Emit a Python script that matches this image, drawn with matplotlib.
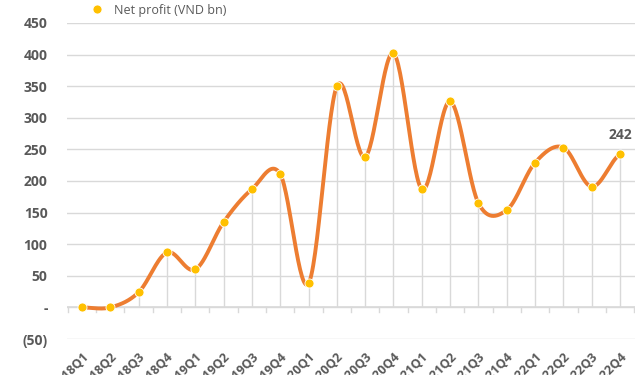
import numpy as np
import matplotlib.pyplot as plt
from matplotlib.ticker import FuncFormatter

# quarterly values
quarters = ["2018Q1", "2018Q2", "2018Q3", "2018Q4",
            "2019Q1", "2019Q2", "2019Q3", "2019Q4",
            "2020Q1", "2020Q2", "2020Q3", "2020Q4",
            "2021Q1", "2021Q2", "2021Q3", "2021Q4",
            "2022Q1", "2022Q2", "2022Q3", "2022Q4"]
values = [0, 0, 24, 87, 60, 135, 187, 211, 38, 350,
          238, 402, 187, 326, 165, 154, 229, 253, 191, 242]

ORANGE = "#ED7D31"
YELLOW = "#FFC000"
GRAY_TXT = "#595959"
GRID = "#D9D9D9"

plt.rcParams['font.family'] = ['Open Sans', 'DejaVu Sans']


def smooth(xs, ys, n=30):
    # Catmull-Rom style smoothing, like Excel's "smoothed line"
    xs = np.asarray(xs, float)
    ys = np.asarray(ys, float)
    px = np.concatenate([[2 * xs[0] - xs[1]], xs, [2 * xs[-1] - xs[-2]]])
    py = np.concatenate([[ys[0]], ys, [ys[-1]]])
    out_x, out_y = [], []
    t = np.linspace(0, 1, n, endpoint=False)
    for i in range(1, len(px) - 2):
        p0, p1, p2, p3 = py[i - 1], py[i], py[i + 1], py[i + 2]
        x1, x2 = px[i], px[i + 1]
        m1 = (p2 - p0) / 2
        m2 = (p3 - p1) / 2
        h00 = 2 * t**3 - 3 * t**2 + 1
        h10 = t**3 - 2 * t**2 + t
        h01 = -2 * t**3 + 3 * t**2
        h11 = t**3 - t**2
        out_y.append(h00 * p1 + h10 * m1 + h01 * p2 + h11 * m2)
        out_x.append(x1 + t * (x2 - x1))
    out_x.append([xs[-1]])
    out_y.append([ys[-1]])
    return np.concatenate(out_x), np.concatenate(out_y)


x = np.arange(len(quarters))
fig = plt.figure(figsize=(6.4, 3.75), dpi=100)
ax = fig.add_axes([67 / 640, 36 / 375, 568 / 640, 316 / 375])

ax.set_ylim(-50, 450)
ax.set_xlim(-0.53, len(quarters) - 0.47)
ax.set_yticks(np.arange(-50, 451, 50))
ax.yaxis.grid(True, color=GRID, lw=1)
ax.set_axisbelow(True)

for s in ["top", "right", "left", "bottom"]:
    ax.spines[s].set_visible(False)

# zero axis line with category boundary ticks
ax.axhline(0, color=GRID, lw=1.2, zorder=1)
for b in np.arange(-0.5, len(quarters), 1.0):
    ax.plot([b, b], [0, -8], color=GRID, lw=1, zorder=1)

# drop lines
ax.vlines(x, 0, values, color=GRID, lw=1, zorder=1)

sx, sy = smooth(x, values)
ax.plot(sx, sy, color=ORANGE, lw=2.8, solid_capstyle="round", zorder=3)
ax.plot(x, values, "o", color=YELLOW, ms=6.5, mec="white", mew=0.6,
        zorder=4, label="Net profit (VND bn)")

ax.annotate(str(values[-1]), (x[-1], values[-1]), xytext=(0, 9),
            textcoords="offset points", ha="center", va="bottom",
            fontsize=10, fontweight="bold", color=GRAY_TXT)


def fmt(v, pos):
    if v == 0:
        return "-"
    if v < 0:
        return "({:d})".format(int(-v))
    return "{:d}".format(int(v))


ax.yaxis.set_major_formatter(FuncFormatter(fmt))
ax.tick_params(axis="y", length=0, pad=14, labelsize=10, labelcolor=GRAY_TXT)
for lab in ax.get_yticklabels():
    lab.set_fontweight("bold")

ax.set_xticks(x)
ax.set_xticklabels(quarters, rotation=45, ha="right", rotation_mode="anchor",
                   fontsize=9, fontweight="bold", color=GRAY_TXT)
ax.tick_params(axis="x", length=0, pad=8)

leg = fig.legend(loc="upper left", bbox_to_anchor=(0.115, 1.02), frameon=False,
                 fontsize=9, handletextpad=0.3, labelcolor=GRAY_TXT)

fig.savefig("out.png", dpi=100)
